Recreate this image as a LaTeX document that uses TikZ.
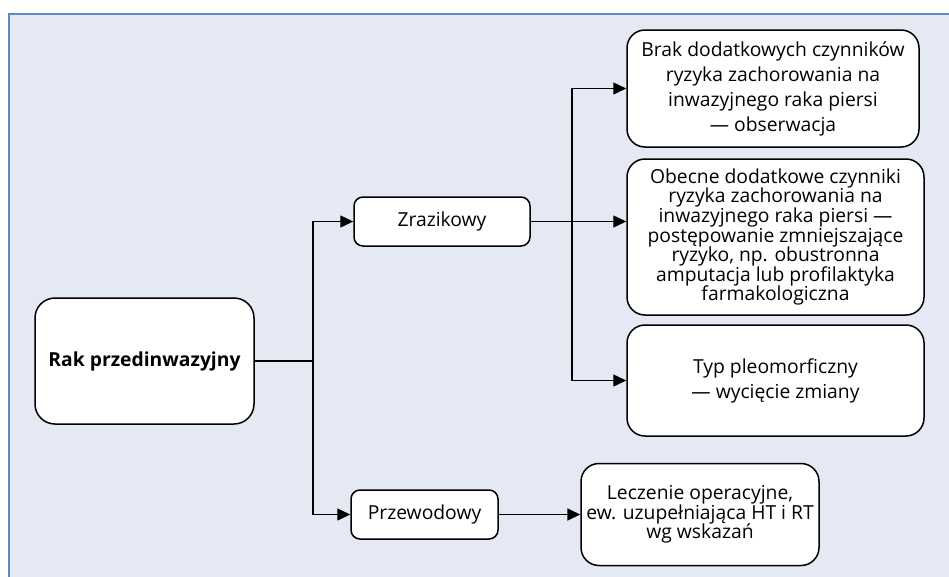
\documentclass[tikz,border=0pt]{standalone}
\usepackage{fontspec}
\setmainfont{Open Sans}
\usetikzlibrary{arrows.meta}

\definecolor{panelbg}{RGB}{229,233,244}
\definecolor{panelframe}{RGB}{91,140,196}
\newcommand\tightlead{\fontsize{19.3}{19.6}\selectfont\lineskiplimit=-20pt\relax}

\begin{document}
\begin{tikzpicture}[
  x=1pt, y=-1pt,
  every node/.style={
    draw, fill=white, line width=1.5pt, align=center, inner sep=0pt,
    font=\fontsize{19.3}{25}\selectfont
  },
  bigbox/.style={rounded corners=18pt},
  smallbox/.style={rounded corners=9pt},
  tight/.style={font=\tightlead},
  link/.style={
    line width=1.4pt, -{Triangle[length=13pt,width=12pt]}
  }
  ]
  \useasboundingbox (0,0) rectangle (949,576);
  \begin{scope}
    \clip (0,0) rectangle (949,576);
    \draw[panelframe, fill=panelbg, line width=2.5pt] (9,14) rectangle (970,600);
  \end{scope}

  \node[bigbox, rounded corners=20pt, minimum width=219pt, minimum height=126pt,
    font=\fontsize{19.3}{25}\selectfont\bfseries] (rak) at (144.5,361)
    {Rak przedinwazyjny};
  \node[smallbox, minimum width=176pt, minimum height=49pt] (zraz) at (442,221.5)
    {Zrazikowy};
  \node[smallbox, minimum width=147pt, minimum height=49pt] (przew) at (424.5,514.5)
    {Przewodowy};
  \node[bigbox, minimum width=292pt, minimum height=117pt] (brak) at (773,88.5)
    {Brak dodatkowych czynników\\ ryzyka zachorowania na\\ inwazyjnego raka piersi\\ — obserwacja};
  \node[bigbox, tight, minimum width=297pt, minimum height=156pt] (obecne) at (775.5,237)
    {Obecne dodatkowe czynniki\\ ryzyka zachorowania na\\ inwazyjnego raka piersi —\\
     postępowanie zmniejszające\\ ryzyko, np. obustronna\\ amputacja lub profilaktyka\\
     farmakologiczna};
  \node[bigbox, minimum width=297pt, minimum height=111pt] (typ) at (775.5,380.5)
    {Typ pleomorficzny\\ — wycięcie zmiany};
  \node[bigbox, tight, minimum width=238pt, minimum height=102pt] (lecz) at (700,514.5)
    {Leczenie operacyjne,\\ ew. uzupełniająca HT i RT\\ wg wskazań};

  \coordinate (forkl) at (rak.east -| 313,0);
  \coordinate (forkr) at (zraz.east -| 572,0);

  \draw[line width=1.4pt] (rak.east) -- (forkl);
  \draw[link] (forkl) |- (zraz.west);
  \draw[link] (forkl) |- (przew.west);
  \draw[link] (zraz.east) -- (zraz.east -| obecne.west);
  \draw[link] (forkr) |- (brak.west);
  \draw[link] (forkr) |- (typ.west);
  \draw[link, line width=1.8pt] (przew.east) -- (lecz.west);
\end{tikzpicture}
\end{document}
